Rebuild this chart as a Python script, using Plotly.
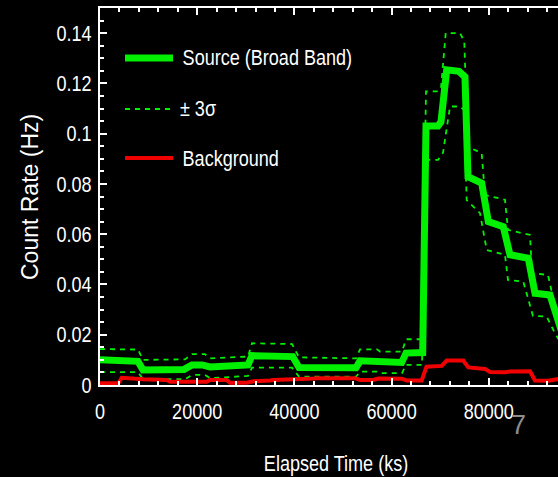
import plotly.graph_objects as go

# Broad-band light curve: source rate, +/-3 sigma envelope and background (time in s, rate in Hz)
src_t = [0, 7820, 8850, 17280, 18930, 20990, 22630, 30450, 31280, 39650, 40950, 52680,
         53500, 56930, 57610, 62080, 62960, 66400, 67080, 69550, 70160, 71340, 73870,
         75100, 75720, 78540, 79900, 82980, 84360, 88130, 89510, 92590, 94030, 95060]
src_v = [0.0100, 0.0094, 0.0060, 0.0062, 0.0080, 0.0080, 0.0072, 0.0080, 0.0117, 0.0113,
         0.0070, 0.0069, 0.0096, 0.0095, 0.0090, 0.0090, 0.0127, 0.0129, 0.1031, 0.1031,
         0.1047, 0.1254, 0.1248, 0.1226, 0.0829, 0.0803, 0.0650, 0.0630, 0.0518, 0.0504,
         0.0365, 0.0358, 0.0271, 0.0207]

up_t = [0, 7820, 8850, 17490, 18930, 21600, 22630, 30450, 31280, 39510, 40950, 52680,
        53500, 57000, 57610, 62140, 62960, 66260, 67080, 69550, 70160, 71130, 74070,
        74960, 75660, 78540, 79220, 83330, 83950, 88480, 88890, 92180, 93620, 95060]
up_v = [0.0143, 0.0141, 0.0100, 0.0102, 0.0123, 0.0123, 0.0106, 0.0113, 0.0166, 0.0163,
        0.0110, 0.0106, 0.0142, 0.0142, 0.0133, 0.0133, 0.0182, 0.0182, 0.1168, 0.1168,
        0.1180, 0.1400, 0.1400, 0.1367, 0.0949, 0.0922, 0.0756, 0.0737, 0.0617, 0.0597,
        0.0445, 0.0438, 0.0312, 0.0260]

lo_t = [0, 7820, 8850, 17490, 18930, 21600, 22630, 30450, 31280, 39510, 40950, 52680,
        53500, 57000, 57610, 62140, 62960, 66260, 67080, 69550, 70580, 72020, 74070,
        74900, 75450, 78190, 79570, 83330, 83950, 87100, 89090, 91910, 93620, 95060]
lo_v = [0.0051, 0.0051, 0.0023, 0.0023, 0.0040, 0.0040, 0.0027, 0.0036, 0.0069, 0.0069,
        0.0033, 0.0033, 0.0053, 0.0053, 0.0047, 0.0047, 0.0080, 0.0080, 0.0896, 0.0896,
        0.0924, 0.1108, 0.1108, 0.1095, 0.0736, 0.0684, 0.0537, 0.0518, 0.0418, 0.0411,
        0.0275, 0.0272, 0.0206, 0.0160]

bg_t = [0, 3770, 4470, 8230, 8910, 13720, 14400, 21960, 22630, 26070, 26750, 30190,
        31540, 34980, 35660, 44030, 44590, 52470, 53500, 56230, 57260, 62080, 63110,
        66190, 67180, 70310, 71340, 74750, 75780, 79220, 80250, 83330, 84360, 88480,
        89510, 92240, 93970, 95060]
bg_v = [0.0007, 0.0007, 0.0029, 0.0027, 0.0023, 0.0020, 0.0013, 0.0013, 0.0020, 0.0020,
        0.0009, 0.0009, 0.0015, 0.0018, 0.0020, 0.0026, 0.0027, 0.0027, 0.0020, 0.0020,
        0.0026, 0.0025, 0.0018, 0.0018, 0.0073, 0.0076, 0.0097, 0.0097, 0.0070, 0.0064,
        0.0052, 0.0051, 0.0054, 0.0055, 0.0018, 0.0017, 0.0023, 0.0026]

legend_labels = ["Source (Broad Band)", "\u00b1 3\u03c3", "Background"]

GREEN = "#00f000"
RED = "#f00000"
FONT = "Liberation Sans, Arial, Helvetica, sans-serif"
DASH = "5px,5px"

fig = go.Figure()
fig.add_trace(go.Scatter(x=up_t, y=up_v, mode="lines",
                         line=dict(color=GREEN, width=1.8, dash=DASH)))
fig.add_trace(go.Scatter(x=lo_t, y=lo_v, mode="lines",
                         line=dict(color=GREEN, width=1.8, dash=DASH)))
fig.add_trace(go.Scatter(x=src_t, y=src_v, mode="lines",
                         line=dict(color=GREEN, width=7)))
fig.add_trace(go.Scatter(x=bg_t, y=bg_v, mode="lines",
                         line=dict(color=RED, width=4)))

W, H = 558, 477
L, R, T, B = 100, 0, 8, 92
pw, ph = W - L - R, H - T - B


def px(xp):
    return (xp - L) / pw


def py(yp):
    return (H - B - yp) / ph


# Legend keys and labels (labels centred so that horizontal condensing keeps them in place)
rows = [58, 109, 158]
label_centres = [267, 198, 230]
keys = [dict(color=GREEN, width=7), dict(color=GREEN, width=1.8, dash=DASH),
        dict(color=RED, width=4)]
shapes = []
annotations = []
for yrow, xc, ln, lab in zip(rows, label_centres, keys, legend_labels):
    shapes.append(dict(type="line", xref="paper", yref="paper",
                       x0=px(125), x1=px(173), y0=py(yrow), y1=py(yrow), line=ln))
    annotations.append(dict(text=lab, xref="paper", yref="paper", x=px(xc), y=py(yrow),
                            xanchor="center", yanchor="middle", showarrow=False,
                            font=dict(family=FONT, size=22, color="white")))

annotations.append(dict(text="Elapsed Time (ks)", xref="paper", yref="paper",
                        x=px(336), y=py(463), xanchor="center", yanchor="middle",
                        showarrow=False, font=dict(family=FONT, size=22, color="white")))
annotations.append(dict(text="Count Rate (Hz)", xref="paper", yref="paper",
                        x=px(30), y=py(197), xanchor="center", yanchor="middle",
                        textangle=-90, showarrow=False,
                        font=dict(family=FONT, size=23, color="white")))
annotations.append(dict(text="7", xref="paper", yref="paper", x=px(518), y=py(425),
                        xanchor="center", yanchor="middle", showarrow=False,
                        font=dict(family=FONT, size=27, color="#8c8c8c")))

fig.update_layout(
    width=W, height=H,
    margin=dict(l=L, r=R, t=T, b=B, pad=0),
    paper_bgcolor="black", plot_bgcolor="black",
    showlegend=False,
    shapes=shapes, annotations=annotations,
    font=dict(family=FONT, size=22, color="white"),
)
fig.update_xaxes(range=[0, 94240], showgrid=False, zeroline=False,
                 showline=True, linecolor="white", linewidth=2, mirror="ticks",
                 ticks="inside", ticklen=7, tickwidth=1.5, tickcolor="white",
                 dtick=20000, tick0=0, tickformat="d", ticklabelstandoff=6,
                 minor=dict(ticks="inside", ticklen=4, tickwidth=1.5, tickcolor="white",
                            dtick=4000, showgrid=False),
                 tickfont=dict(family=FONT, size=22, color="white"))
fig.update_yaxes(range=[0, 0.15], showgrid=False, zeroline=False,
                 showline=True, linecolor="white", linewidth=2,
                 ticks="inside", ticklen=7, tickwidth=1.5, tickcolor="white",
                 dtick=0.02, tick0=0, ticklabelstandoff=2,
                 minor=dict(ticks="inside", ticklen=4, tickwidth=1.5, tickcolor="white",
                            dtick=0.005, showgrid=False),
                 tickfont=dict(family=FONT, size=22, color="white"))

# Horizontal text is set in a condensed cut: squeeze tick labels, legend labels and
# the x-axis title to 82 % of their natural width.
condense = """
var gd = document.getElementById('{plot_id}');
var sel = '.xtick text, .ytick text, .annotation-text';
gd.querySelectorAll(sel).forEach(function(t) {
  var s = t.textContent;
  if (s === 'Count Rate (Hz)' || s === '7') { return; }
  var w = t.getComputedTextLength();
  t.setAttribute('textLength', (0.82 * w).toFixed(2));
  t.setAttribute('lengthAdjust', 'spacingAndGlyphs');
});
"""

fig.write_html("out.html", post_script=condense)
